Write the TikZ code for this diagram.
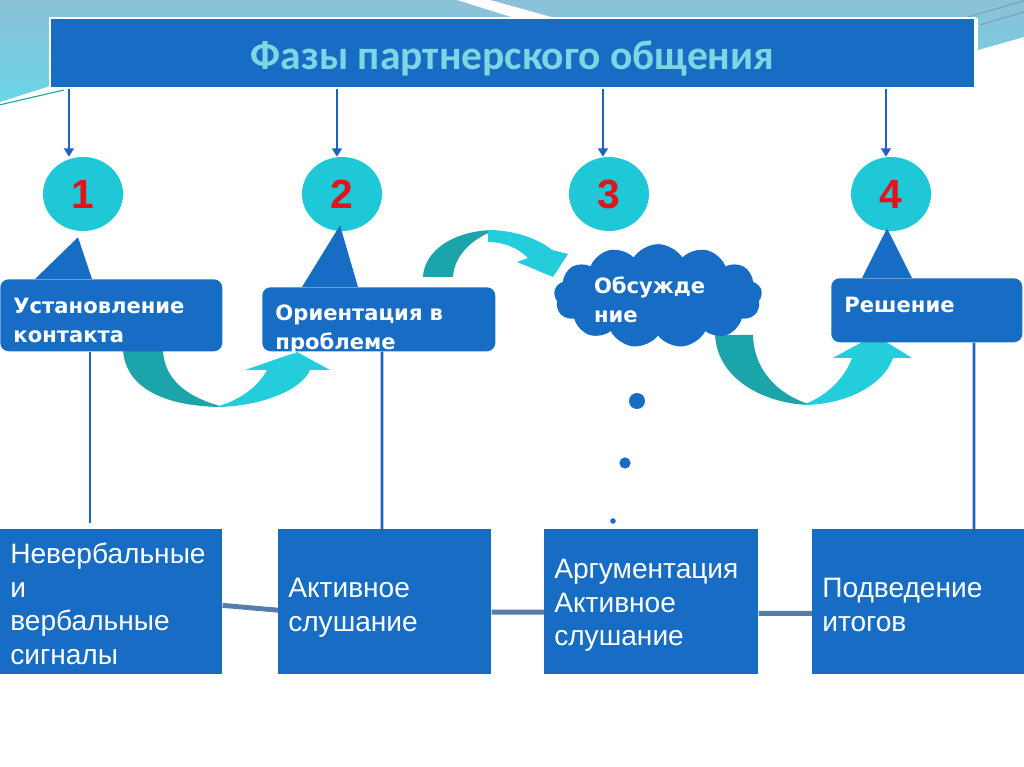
\documentclass[tikz,border=0pt]{standalone}
\usepackage{fontspec}
\setmainfont{Liberation Sans}
\newfontfamily\verdfont{DejaVu Sans}
\newfontfamily\calfont{Carlito}
\usepackage{tikz}
\usetikzlibrary{shapes.geometric,shapes.symbols,arrows.meta,calc}
\usepackage{xcolor}
\definecolor{boxblue}{RGB}{23,108,196}
\definecolor{cyanc}{RGB}{30,200,214}
\definecolor{ribdark}{RGB}{27,165,170}
\definecolor{riblight}{RGB}{35,205,220}
\definecolor{titletext}{RGB}{125,214,226}
\definecolor{numred}{RGB}{225,20,25}
\definecolor{lineblue}{RGB}{28,98,190}
\definecolor{connblue}{RGB}{85,125,170}
\definecolor{bandtop}{RGB}{140,192,216}
\definecolor{bandbot}{RGB}{105,214,230}
\tikzset{
  titlebar/.style={rectangle, fill=boxblue, draw=white, line width=1.5pt,
                   minimum width=23.125cm, minimum height=1.75cm,
                   text height=0.85cm, text depth=0pt,
                   text=titletext, font=\calfont\bfseries\fontsize{29.5}{32}\selectfont},
  numcirc/.style={ellipse, fill=cyanc, minimum width=2cm, minimum height=1.85cm,
                  inner sep=0pt, text=numred, font=\bfseries\fontsize{29}{30}\selectfont},
  callbox/.style={rectangle, fill=boxblue, rounded corners=6pt, anchor=north west,
                  inner xsep=0.33cm, inner ysep=0pt, align=left, text=white,
                  font=\verdfont\bfseries\fontsize{15}{20.5}\selectfont},
  cloudnode/.style={cloud, cloud puffs=13, cloud puff arc=115, aspect=2.2,
                    fill=boxblue, minimum width=5.2cm, minimum height=2.4cm,
                    inner sep=0pt, align=left, text=white,
                    text width=3.2cm, text height=0.6cm, text depth=0.7cm,
                    font=\verdfont\bfseries\fontsize{15}{20.5}\selectfont},
  lowbox/.style={rectangle, fill=boxblue, anchor=north west,
                 inner xsep=0.25cm, inner ysep=0pt, align=left, text=white,
                 font=\fontsize{20}{24}\selectfont},
  downarr/.style={-{Triangle[length=6pt,width=7pt]}, line width=2pt, color=lineblue},
  vline/.style={line width=2pt, color=lineblue},
  hconn/.style={line width=3.5pt, color=connblue},
}

\begin{document}
\begin{tikzpicture}[y=-1cm]
    \useasboundingbox (0,0) rectangle (25.6,19.175);
    % top decoration
    \shade[top color=bandtop, bottom color=bandbot] (0,0) -- (25.6,0) -- (25.6,0.925)
      -- (24.45,1.25) -- (24.45,0.45) -- (1.25,0.45) -- (1.25,2.15) -- (0,2.55) -- cycle;
    \fill[white] (11.425,0) -- (12.25,0) -- (13.8,0.43) -- (12.8,0.43) -- cycle;
    \draw[ribdark, line width=0.8pt] (0,2.62) -- (1.6,2.25);
    \draw[connblue!80, line width=0.6pt] (24.1,0.45) -- (25.6,0.02);
    \draw[connblue!80, line width=0.6pt] (24.5,0.62) -- (25.6,0.3);

    \node[titlebar] (title) at (12.8125,1.325) {Фазы партнерского общения};

    \node[numcirc] (c1) at (2.075,4.85) {1};
    \node[numcirc] (c2) at (8.55,4.85) {2};
    \node[numcirc] (c3) at (15.225,4.85) {3};
    \node[numcirc] (c4) at (22.275,4.85) {4};

    \foreach \i/\dx in {1/0.5, 2/7.2, 3/13.85, 4/20.925} {
      \coordinate (a\i) at ($(title.south west)+(\dx,0)$);
      \draw[downarr] (a\i) -- (a\i |- c\i.north);
    }

    % curved arrows
    \fill[ribdark] (3.075,8.75) .. controls (3.15,9.8) and (4.3,10.175) .. (5.6,10.175)
      .. controls (4.7,9.95) and (4.1,9.5) .. (4.075,8.75) -- cycle;
    \fill[riblight] (5.375,10.175) .. controls (6.5,10.175) and (7.55,9.75) .. (7.75,9.25)
      -- (8.25,9.25) -- (7.425,8.8) -- (6.125,9.25) -- (6.675,9.25)
      .. controls (6.45,9.7) and (5.9,10.05) .. (5.375,10.175) -- cycle;
    \fill[ribdark] (10.575,6.925) .. controls (10.6,6.3) and (11.3,5.75) .. (12.4,5.75)
      .. controls (11.8,5.95) and (11.35,6.4) .. (11.325,6.925) -- cycle;
    \fill[riblight] (12.2,5.75) .. controls (12.9,5.75) and (13.5,6.0) .. (13.8,6.25)
      -- (14.2,6.35) -- (13.825,6.925) -- (12.925,6.55) -- (13.2,6.45)
      .. controls (12.95,6.2) and (12.6,6.05) .. (12.2,6.05) -- cycle;
    \fill[ribdark] (17.875,8.375) .. controls (17.95,9.6) and (19.3,10.125) .. (20.3,10.125)
      .. controls (19.5,9.9) and (18.85,9.3) .. (18.825,8.375) -- cycle;
    \fill[riblight] (20.05,10.125) .. controls (21.2,10.125) and (22.1,9.6) .. (22.325,8.95)
      -- (22.8,8.95) -- (21.875,8.375) -- (20.825,8.95) -- (21.3,8.95)
      .. controls (21.1,9.5) and (20.6,9.95) .. (20.05,10.125) -- cycle;

    \node[callbox, text width=4.89cm, text height=0.85cm, text depth=0.95cm] (k1)
      at (0,6.975) {Установление\\контакта};
    \node[callbox, text width=5.165cm, text height=0.825cm, text depth=0.775cm] (k2)
      at (6.55,7.175) {Ориентация в\\проблеме};
    \node[cloudnode] (k3) at (16.45,7.4) {Обсужде\\ние};
    \node[callbox, text width=4.115cm, text height=0.85cm, text depth=0.75cm] (k4)
      at (20.775,6.95) {Решение};

    \fill[boxblue] ($(k1.north west)+(0.875,0)$) -- ($(c1.south)+(-0.125,0.15)$)
      -- ($(k1.north west)+(2.3,0)$) -- cycle;
    \fill[boxblue] ($(k2.north west)+(1.0,0)$) -- ($(c2.south)+(-0.05,-0.15)$)
      -- ($(k2.north west)+(2.4,0)$) -- cycle;
    \fill[boxblue] ($(k4.north west)+(0.775,0)$) -- ($(c4.south)+(-0.1,-0.075)$)
      -- ($(k4.north west)+(2.025,0)$) -- cycle;

    \fill[boxblue] (15.925,10.025) circle (0.2);
    \fill[boxblue] (15.625,11.575) circle (0.14);
    \fill[boxblue] (15.325,13.025) circle (0.07);

    \node[lowbox, text width=5.05cm, text height=0.85cm, text depth=2.775cm] (b1)
      at (0,13.225) {Невербальные\\и\\вербальные\\сигналы};
    \node[lowbox, text width=4.825cm, text height=1.7cm, text depth=1.925cm] (b2)
      at (6.95,13.225) {Активное\\слушание};
    \node[lowbox, text width=4.85cm, text height=1.225cm, text depth=2.4cm] (b3)
      at (13.6,13.225) {Аргументация\\Активное\\слушание};
    \node[lowbox, text width=4.8cm, text height=1.7cm, text depth=1.925cm] (b4)
      at (20.3,13.225) {Подведение\\итогов};

    \draw[vline] ($(k1.south west)+(2.25,0)$) -- ($(b1.north west)+(2.25,-0.15)$);
    \draw[vline] ($(k2.south west)+(3.0,0)$) -- ($(b2.north west)+(2.6,0.08)$);
    \draw[vline] ($(k4.south west)+(3.575,0)$) -- ($(b4.north west)+(4.05,0.08)$);

    \draw[hconn] ($(b1.east)+(0,0.09)$) -- ($(b2.west)+(0,0.21)$);
    \draw[hconn] ($(b2.east)+(0,0.26)$) -- ($(b3.west)+(0,0.26)$);
    \draw[hconn] ($(b3.east)+(0,0.29)$) -- ($(b4.west)+(0,0.29)$);
  \end{tikzpicture}
\end{document}
